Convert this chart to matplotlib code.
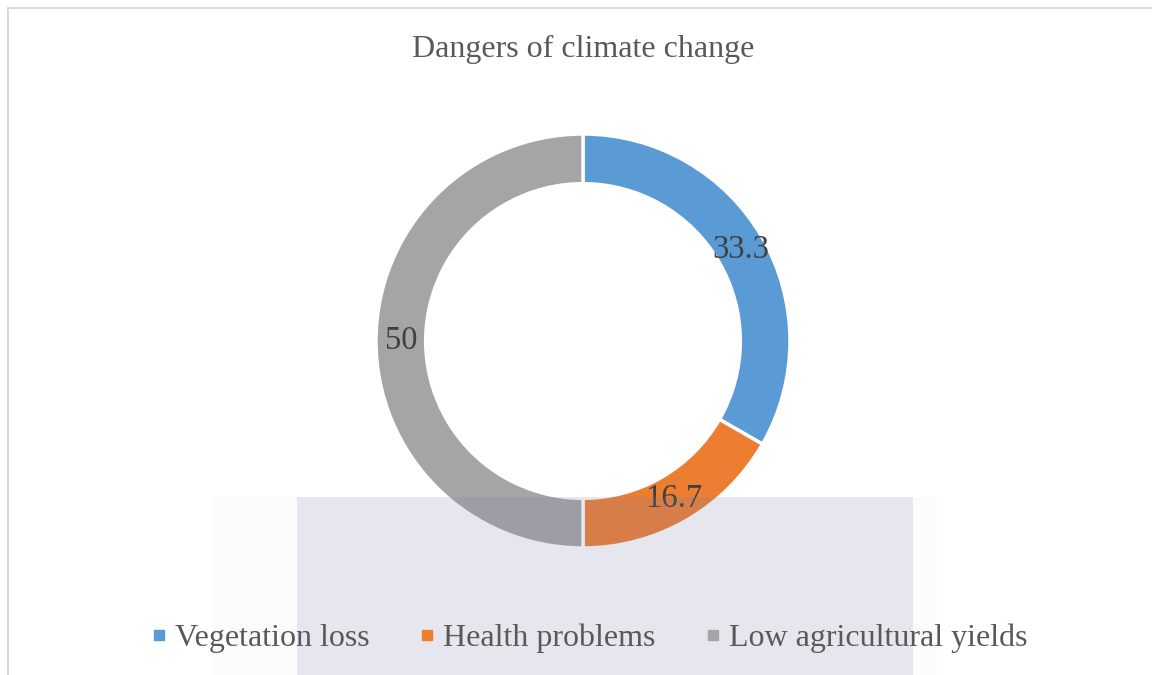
import numpy as np
import matplotlib
matplotlib.use('agg')
import matplotlib.pyplot as plt
from matplotlib.patches import Rectangle
from matplotlib.lines import Line2D

# data
labels = ["Vegetation loss", "Health problems", "Low agricultural yields"]
values = [33.3, 16.7, 50]
colors = ["#5B9BD5", "#ED7D31", "#A5A5A5"]
title = "Dangers of climate change"

plt.rcParams['font.family'] = ['Liberation Serif', 'DejaVu Serif']

fig = plt.figure(figsize=(11.52, 6.75), dpi=100)
fig.patch.set_facecolor('white')

# outer frame of the chart area
fig.add_artist(Rectangle((8 / 1152, -0.05), 1.2, 1 - 8 / 675 + 0.05, transform=fig.transFigure,
                         fill=False, edgecolor='#d9d9d9', linewidth=1.5))

ax = fig.add_axes([(583 - 207) / 1152, (675 - 548) / 675, 414 / 1152, 414 / 675])
wedges, _ = ax.pie(values, colors=colors, startangle=90, counterclock=False, radius=1,
                   wedgeprops=dict(width=0.24, edgecolor='white', linewidth=2.5))
ax.set_xlim(-1, 1)
ax.set_ylim(-1, 1)
ax.set_aspect('equal')
ax.axis('off')

# value labels in the middle of the ring
for w, v in zip(wedges, values):
    ang = np.deg2rad((w.theta1 + w.theta2) / 2)
    r = 0.88
    ax.text(r * np.cos(ang), r * np.sin(ang), "{:g}".format(v), ha='center', va='center',
            fontsize=23.5, color='#404040')

fig.text(583 / 1152, 1 - 49 / 675, title, ha='center', va='center', fontsize=23, color='#595959')

handles = [Line2D([], [], linestyle='none', marker='s', markersize=7.5, color=c) for c in colors]
leg = fig.legend(handles, labels, loc='center', bbox_to_anchor=(590 / 1152, 1 - 638 / 675), ncol=3,
                 frameon=False, fontsize=23, handlelength=0.4, handletextpad=0.3,
                 columnspacing=1.6, labelcolor='#595959')

# faint watermark band across the bottom
fig.add_artist(Rectangle((212 / 1152, 0), (937 - 212) / 1152, (675 - 497) / 675,
                         transform=fig.transFigure, facecolor='#8080b0', alpha=0.03,
                         edgecolor='none', zorder=5))
fig.add_artist(Rectangle((297 / 1152, 0), (913 - 297) / 1152, (675 - 497) / 675,
                         transform=fig.transFigure, facecolor='#8080b0', alpha=0.17,
                         edgecolor='none', zorder=5))

fig.savefig('out.png', dpi=100, facecolor='white')
